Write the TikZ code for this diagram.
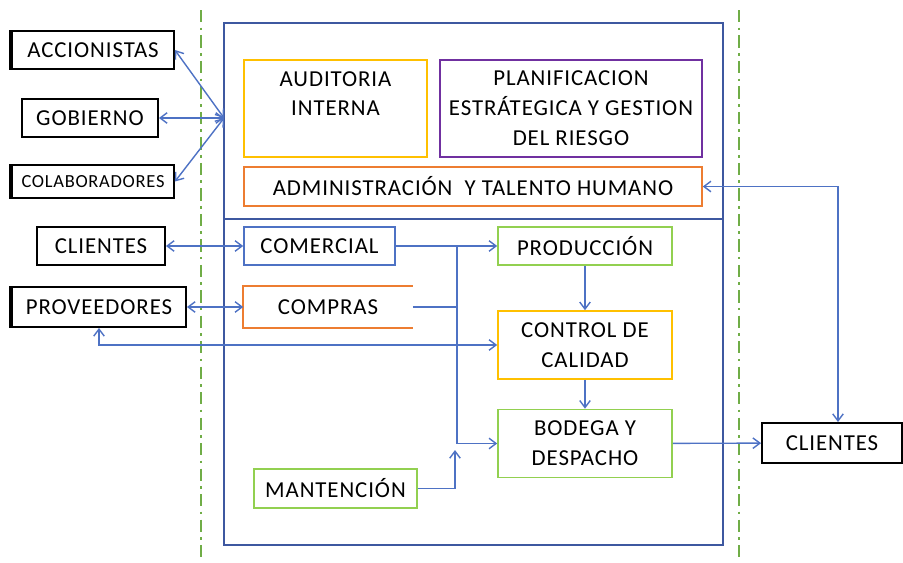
\documentclass[tikz,border=0pt]{standalone}
\usepackage{fontspec}
\setmainfont{Carlito}[LetterSpace=4]
\usetikzlibrary{arrows.meta}

\definecolor{lineblue}{RGB}{78,114,196}
\definecolor{frameblue}{RGB}{62,88,160}
\definecolor{boxyellow}{RGB}{255,192,0}
\definecolor{boxpurple}{RGB}{112,48,160}
\definecolor{boxorange}{RGB}{237,125,49}
\definecolor{boxgreen}{RGB}{146,208,80}
\definecolor{zonegreen}{RGB}{112,173,71}

\tikzset{
  ext/.style={draw=black,line width=1.1pt,minimum height=0.76cm,inner sep=1pt},
  area/.style={line width=0.9pt,minimum height=0.76cm,align=center,inner sep=1pt},
  link/.style={draw=lineblue,line width=0.8pt,arrows={-Straight Barb[length=4pt,width=6pt]}},
  both/.style={link,arrows={Straight Barb[length=4pt,width=6pt]-Straight Barb[length=4pt,width=6pt]}},
  zone/.style={draw=zonegreen,line width=1.3pt,dash pattern=on 7pt off 3pt on 1.5pt off 3pt}
}

\begin{document}
\begin{tikzpicture}[x=0.02cm,y=-0.02cm,font=\fontsize{13}{17}\selectfont]
    \useasboundingbox (0,0) rectangle (903,562);
    % Zone limits
    \draw[zone] (201,10) -- (201,560);
    \draw[zone] (739,10) -- (739,560);
    % Company frame
    \draw[frameblue,line width=0.9pt] (224,23) rectangle (723,545);
    \draw[frameblue,line width=0.9pt] (224,219) -- (723,219);
    % Outside parties
    \node[ext,minimum width=3.24cm] (acc) at (93,50) {ACCIONISTAS};
    \node[ext,minimum width=2.72cm] (gob) at (90,118) {GOBIERNO};
    \node[ext,minimum width=3.24cm,minimum height=0.66cm,font=\fontsize{10.5}{12}\selectfont] (col) at (93,181.5) {COLABORADORES};
    \node[ext,minimum width=2.56cm] (cli) at (101,246) {CLIENTES};
    \node[ext,minimum width=3.48cm,minimum height=0.8cm] (prov) at (99,307) {PROVEEDORES};
    \node[ext,minimum width=2.8cm,minimum height=0.8cm] (cliout) at (832,443) {CLIENTES};
    \foreach \n in {acc,col,prov} {
      \draw[line width=2.2pt] (\n.north west) -- (\n.south west);
    }
    % Management areas
    \node[area,draw=boxyellow,minimum width=3.66cm,minimum height=1.94cm] (aud) at (335.5,108.5) {AUDITORIA\\INTERNA\\~};
    \node[area,draw=boxpurple,minimum width=5.24cm,minimum height=1.94cm] (plan) at (571,108.5) {PLANIFICACION\\ESTRÁTEGICA Y GESTION\\DEL RIESGO};
    \node[area,draw=boxorange,minimum width=9.16cm,minimum height=0.78cm] (adm) at (473,186.5) {ADMINISTRACIÓN\ \ Y TALENTO HUMANO};
    % Operating areas
    \node[area,draw=lineblue,minimum width=3.02cm] (com) at (319.5,246) {COMERCIAL};
    \node[area,minimum width=3.36cm,minimum height=0.8cm] (comp) at (328,307) {COMPRAS};
    \draw[boxorange,line width=0.9pt] (comp.north east) -- (comp.north west) -- (comp.south west) -- (comp.south east);
    \node[area,draw=boxgreen,minimum width=3.48cm] (prod) at (585,246) {PRODUCCIÓN};
    \node[area,draw=boxyellow,minimum width=3.48cm,minimum height=1.36cm] (ctrl) at (585,345) {CONTROL DE\\CALIDAD};
    \node[area,draw=boxgreen,minimum width=3.48cm,minimum height=1.36cm] (bod) at (585,443.5) {BODEGA Y\\DESPACHO};
    \node[area,draw=boxgreen,minimum width=3.26cm,minimum height=0.78cm] (mant) at (335.5,488.5) {MANTENCIÓN};
    % Links to the outside
    \coordinate (hub) at (224,118);
    \draw[both] (acc.east) -- (hub);
    \draw[both] (gob.east) -- (hub);
    \draw[both] (col.east) -- (hub);
    \draw[both] (cli) -- (com);
    \draw[both] (prov) -- (comp);
    \draw[both] (prov.south) |- (ctrl.west);
    \coordinate (drop) at (838,186.5);
    \draw[both] (adm.east) -- (drop) -- (drop |- cliout.north);
    % Internal flow
    \coordinate (bus) at (457,246);
    \coordinate (mtip) at (455,450);
    \draw[link] (com) -- (prod);
    \draw[link] (bus) |- (bod.west);
    \draw[link,-] (comp.east) -- (comp.east -| bus);
    \draw[link] (prod) -- (ctrl);
    \draw[link] (ctrl) -- (bod);
    \draw[link] (mant.east) -| (mtip);
    \draw[link] (bod) -- (cliout);
  \end{tikzpicture}
\end{document}
